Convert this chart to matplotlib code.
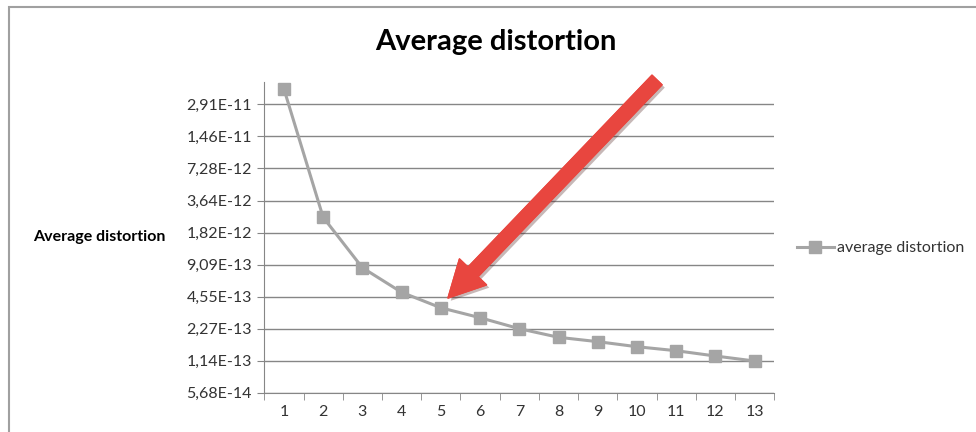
import matplotlib
matplotlib.use('Agg')
import matplotlib.pyplot as plt
import matplotlib.patheffects as pe
from matplotlib.patches import Rectangle

plt.rcParams['font.family'] = ['Lato', 'DejaVu Sans']

# данные
clusters = [1, 2, 3, 4, 5, 6, 7, 8, 9, 10, 11, 12, 13]
distortion = [4.07e-11, 2.53e-12, 8.50e-13, 4.99e-13, 3.57e-13, 2.88e-13, 2.27e-13,
              1.885e-13, 1.715e-13, 1.537e-13, 1.41e-13, 1.257e-13, 1.128e-13]
y_ticks = [2.0 ** p for p in range(-44, -34)]
y_labels = ['5,68E-14', '1,14E-13', '2,27E-13', '4,55E-13', '9,09E-13',
            '1,82E-12', '3,64E-12', '7,28E-12', '1,46E-11', '2,91E-11']

grid_c = '#868686'
text_c = '#333333'

fig = plt.figure(figsize=(9.76, 4.32), dpi=100)
ax = fig.add_axes([0.2708, 0.091, 0.5225, 0.7199])

ax.plot(clusters, distortion, color='#A5A5A5', lw=2.2, marker='s', ms=8,
        label='average distortion')

ax.set_yscale('log', base=2)
ax.set_ylim(2.0 ** -44, 2.0 ** -34.29)
ax.set_yticks(y_ticks)
ax.set_yticklabels(y_labels)
ax.minorticks_off()
ax.set_xlim(0.5, 13.5)
ax.set_xticks(clusters)
ax.set_xticks([c + 0.5 for c in [0] + clusters], minor=True)
ax.tick_params(axis='x', which='major', length=0, pad=9, labelsize=11.5, labelcolor=text_c)
ax.tick_params(axis='x', which='minor', length=5, color=grid_c, direction='out')
ax.tick_params(axis='y', length=5, color=grid_c, pad=4, labelsize=11.5, labelcolor=text_c)

ax.grid(axis='y', color=grid_c, lw=1)
ax.set_axisbelow(True)
for s in ['top', 'right']:
    ax.spines[s].set_visible(False)
for s in ['left', 'bottom']:
    ax.spines[s].set_color(grid_c)

fig.text(0.508, 0.902, 'Average distortion', ha='center', va='center',
         fontsize=21, fontweight='bold', color='black')
fig.text(33 / 976, 1 - 237 / 432, 'Average distortion', ha='left', va='center',
         fontsize=11.5, fontweight='bold', color='black')

leg = fig.legend(loc='center left', bbox_to_anchor=(797 / 976, 1 - 248 / 432),
                 frameon=False, fontsize=11.5, handlelength=2.3, handletextpad=0.2,
                 borderaxespad=0, borderpad=0)
for t in leg.get_texts():
    t.set_color(text_c)

# рамка
fig.patches.append(Rectangle((8.5 / 976, -0.1), 1.2, 1.1 - 7 / 432, transform=fig.transFigure,
                             fill=False, ec='#A0A0A0', lw=1.5))

# красная стрелка
ax.annotate('', xy=(448, 432 - 298), xycoords='figure pixels',
            xytext=(657, 432 - 80), textcoords='figure pixels',
            arrowprops=dict(arrowstyle='simple,head_length=2.6,head_width=2.7,tail_width=1.0',
                            mutation_scale=10, color='#E8463F', shrinkA=0, shrinkB=0,
                            path_effects=[pe.withSimplePatchShadow(offset=(2, -2), alpha=0.3), pe.Normal()]))

fig.savefig('out.png', dpi=100)
